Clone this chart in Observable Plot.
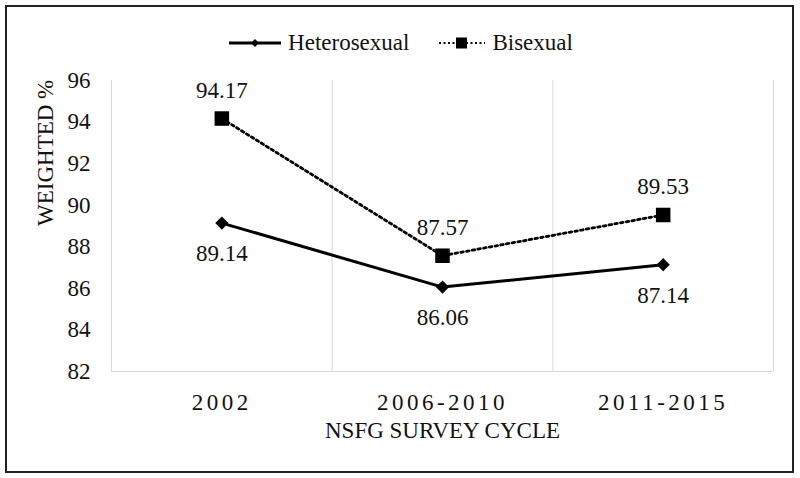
<!DOCTYPE html>
<html>
<head>
<meta charset="utf-8">
<script src="https://cdn.jsdelivr.net/npm/d3@7"></script>
<script src="https://cdn.jsdelivr.net/npm/@observablehq/plot@0.6"></script>
<style>
  html, body { margin: 0; padding: 0; background: #fff; }
  #wrap { position: relative; width: 800px; height: 478px; overflow: hidden; font-family: "Liberation Serif", "Times New Roman", Times, Tinos, "Noto Serif", "DejaVu Serif", serif; }
  #frame { position: absolute; left: 5px; top: 5px; width: 789px; height: 468px; box-sizing: border-box; border: 2.5px solid #222; pointer-events: none; }
  #legend { position: absolute; left: 0; width: 800px; top: 27px; height: 32px; display: flex; justify-content: center; align-items: center; font-size: 23px; color: #111; }
  #legend .item { display: flex; align-items: center; }
  #legend svg { display: block; }
  #chart { position: absolute; left: 0; top: 0; }
  #chart svg text { font-family: "Liberation Serif", "Times New Roman", Times, Tinos, "Noto Serif", "DejaVu Serif", serif; }
</style>
</head>
<body>
<div id="wrap">
  <div id="chart"></div>
  <div id="legend"></div>
  <div id="frame"></div>
</div>
<script>
const categories = ["2002", "2006-2010", "2011-2015"];
const heterosexual = [89.14, 86.06, 87.14];
const bisexual = [94.17, 87.57, 89.53];
const seriesNames = ["Heterosexual", "Bisexual"];
const yTicks = [82, 84, 86, 88, 90, 92, 94, 96];
const yTitle = "WEIGHTED %";
const xTitle = "NSFG SURVEY CYCLE";

const fontStack = '"Liberation Serif", "Times New Roman", Times, Tinos, "Noto Serif", "DejaVu Serif", serif';

const heteroData = categories.map((c, i) => ({i, cat: c, value: heterosexual[i]}));
const biData = categories.map((c, i) => ({i, cat: c, value: bisexual[i]}));
// category boundaries for vertical gridlines
const boundaries = d3.range(categories.length + 1).map(k => k - 0.5);

const chart = Plot.plot({
  width: 800,
  height: 478,
  marginTop: 80,
  marginBottom: 107,
  marginLeft: 111,
  marginRight: 27,
  style: {fontFamily: fontStack, fontSize: "23px", background: "transparent", color: "#111"},
  x: {type: "linear", domain: [-0.5, categories.length - 0.5]},
  y: {domain: [yTicks[0], yTicks[yTicks.length - 1]]},
  marks: [
    Plot.ruleX(boundaries, {stroke: "#d9d9d9", strokeWidth: 1}),
    Plot.ruleY([yTicks[0]], {stroke: "#d9d9d9", strokeWidth: 1}),
    Plot.axisY({ticks: yTicks, tickSize: 0, tickPadding: 21, label: null, fontSize: 23}),
    Plot.axisX({ticks: d3.range(categories.length), tickFormat: i => categories[i], tickSize: 0, tickPadding: 22, label: null, fontSize: 23}),
    Plot.text([yTitle], {frameAnchor: "left", dx: -66, rotate: -90, fontSize: 23}),
    Plot.text([xTitle], {frameAnchor: "bottom", dy: 66, fontSize: 23}),
    Plot.line(biData, {x: "i", y: "value", stroke: "#000", strokeWidth: 2.8, strokeDasharray: "2.6,3.2"}),
    Plot.line(heteroData, {x: "i", y: "value", stroke: "#000", strokeWidth: 3}),
    Plot.dot(biData, {x: "i", y: "value", symbol: "square", r: 8.2, fill: "#000", stroke: "none"}),
    Plot.dot(heteroData, {x: "i", y: "value", symbol: "diamond2", r: 6, fill: "#000", stroke: "none"}),
    Plot.text(biData, {x: "i", y: "value", text: d => d.value.toFixed(2), dy: -28, fontSize: 23}),
    Plot.text(heteroData, {x: "i", y: "value", text: d => d.value.toFixed(2), dy: 31, fontSize: 23})
  ]
});
document.getElementById("chart").appendChild(chart);
// letter spacing on category tick labels, as in the reference
d3.select(chart).selectAll('g[aria-label="x-axis tick label"] text').style("letter-spacing", "3.5px");

// legend
const legend = d3.select("#legend");
function addItem(name, kind, gap) {
  const item = legend.append("div").attr("class", "item").style("margin-right", gap + "px");
  const svg = item.append("svg").attr("width", 56).attr("height", 20);
  if (kind === "solid") {
    svg.append("line").attr("x1", 2).attr("x2", 54).attr("y1", 10).attr("y2", 10).attr("stroke", "#000").attr("stroke-width", 3);
    svg.append("path").attr("d", d3.symbol(d3.symbolDiamond2, 40)()).attr("transform", "translate(28,10)").attr("fill", "#000");
  } else {
    svg.attr("width", 50);
    svg.append("line").attr("x1", 2).attr("x2", 48).attr("y1", 10).attr("y2", 10).attr("stroke", "#000").attr("stroke-width", 2.2).attr("stroke-dasharray", "2,2.5");
    svg.append("rect").attr("x", 19).attr("y", 4.5).attr("width", 11).attr("height", 11).attr("fill", "#000");
  }
  item.append("span").text(name).style("margin-left", "5px");
}
addItem(seriesNames[0], "solid", 28);
addItem(seriesNames[1], "dotted", 0);
</script>
</body>
</html>
